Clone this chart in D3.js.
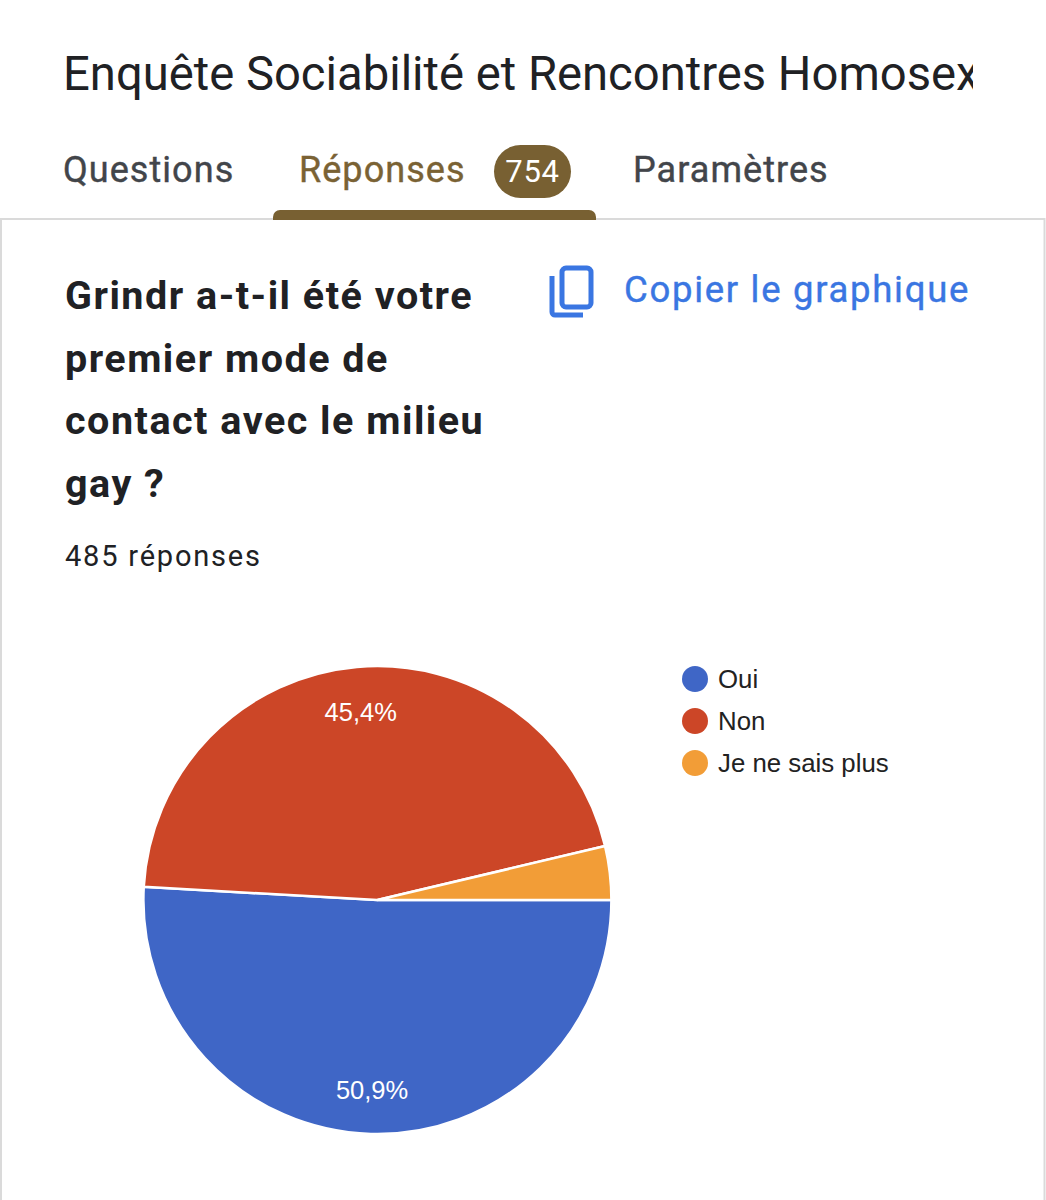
<!DOCTYPE html>
<html>
<head>
<meta charset="utf-8">
<script src="https://cdn.jsdelivr.net/npm/d3@7"></script>
<style>
  html, body { margin: 0; padding: 0; background: #fff; }
  text { font-family: Roboto, sans-serif; }
</style>
</head>
<body>
<svg id="chart"></svg>
<script>
// values
const categories = ["Oui", "Non", "Je ne sais plus"];
const shares = [50.9, 45.4, 3.7];
const shareLabels = ["50,9%", "45,4%", ""];
const colours = ["#3f66c6", "#cc4627", "#f29d37"];
const tabs = ["Questions", "Réponses", "Paramètres"];
const titleLines = ["Grindr a-t-il été votre", "premier mode de", "contact avec le milieu", "gay ?"];

const width = 1046, height = 1200;
const svg = d3.select("#chart").attr("width", width).attr("height", height)
    .style("display", "block");

// clip for the cut off form title
svg.append("clipPath").attr("id", "titleClip")
    .append("rect").attr("x", 0).attr("y", 30).attr("width", 973).attr("height", 90);

svg.append("text")
    .attr("x", 63).attr("y", 90)
    .attr("clip-path", "url(#titleClip)")
    .attr("font-size", 47.2)
    .attr("fill", "#202124")
    .text("Enquête Sociabilité et Rencontres Homosexuelles");

// tabs
const tabX = [63, 299, 633];
svg.selectAll(".tab")
    .data(tabs)
    .join("text")
    .attr("class", "tab")
    .attr("x", (d, i) => tabX[i])
    .attr("y", 182)
    .attr("font-size", 36)
    .attr("font-weight", 400)
    .attr("letter-spacing", 1.05)
    .attr("stroke-width", 0.4)
    .attr("stroke", (d, i) => i === 1 ? "#7a6234" : "#42454a")
    .attr("fill", (d, i) => i === 1 ? "#7a6234" : "#42454a")
    .text(d => d);

svg.append("rect")
    .attr("x", 494).attr("y", 145).attr("width", 77).attr("height", 53).attr("rx", 26.5)
    .attr("fill", "#786032");
svg.append("text")
    .attr("x", 532.5).attr("y", 182)
    .attr("text-anchor", "middle")
    .attr("font-size", 31)
    .attr("letter-spacing", 0.8)
    .attr("fill", "#fff")
    .text("754");

// card border, then the active tab marker over it
svg.append("rect")
    .attr("x", 1).attr("y", 219).attr("width", 1043.5).attr("height", height)
    .attr("fill", "none").attr("stroke", "#dadada").attr("stroke-width", 2);
svg.append("path")
    .attr("d", "M273,220 v-3 a7,7 0 0 1 7,-7 h309 a7,7 0 0 1 7,7 v3 z")
    .attr("fill", "#786032");

// question
svg.selectAll(".question")
    .data(titleLines)
    .join("text")
    .attr("class", "question")
    .attr("x", 65)
    .attr("y", (d, i) => 309 + i * 62.7)
    .attr("font-size", 39.5)
    .attr("font-weight", 700)
    .attr("letter-spacing", 1.5)
    .attr("fill", "#202124")
    .text(d => d);

svg.append("text")
    .attr("x", 65).attr("y", 566)
    .attr("font-size", 29)
    .attr("letter-spacing", 1.8)
    .attr("fill", "#202124")
    .text("485 réponses");

// copy icon and link
const icon = svg.append("g")
    .attr("fill", "none").attr("stroke", "#3a76e2").attr("stroke-width", 5);
icon.append("rect")
    .attr("x", 562).attr("y", 268).attr("width", 29).attr("height", 39).attr("rx", 4);
icon.append("path")
    .attr("d", "M552,276 v36 a3,3 0 0 0 3,3 h28");

svg.append("text")
    .attr("x", 624).attr("y", 302)
    .attr("font-size", 36.5)
    .attr("font-weight", 400)
    .attr("letter-spacing", 1.7)
    .attr("stroke", "#3a76e2")
    .attr("stroke-width", 0.4)
    .attr("fill", "#3a76e2")
    .text("Copier le graphique");

// pie, clockwise from three o'clock
const radius = 234;
const pie = d3.pie().sort(null)
    .startAngle(Math.PI / 2).endAngle(Math.PI * 2.5)(shares);
const arc = d3.arc().innerRadius(0).outerRadius(radius);
const labelArc = d3.arc().innerRadius(radius * 0.81).outerRadius(radius * 0.81);

const pieG = svg.append("g").attr("transform", "translate(377.4,900)");
pieG.selectAll("path")
    .data(pie)
    .join("path")
    .attr("d", arc)
    .attr("fill", (d, i) => colours[i])
    .attr("stroke", "#fff")
    .attr("stroke-width", 2.5);

pieG.selectAll("text")
    .data(pie)
    .join("text")
    .attr("transform", d => `translate(${labelArc.centroid(d)})`)
    .attr("text-anchor", "middle")
    .attr("dy", "0.39em")
    .attr("font-size", 25.5)
    .attr("fill", "#fff")
    .style("font-family", "'Liberation Sans', Arial, sans-serif")
    .text((d, i) => shareLabels[i]);

// legend
const legendY = d3.scalePoint().domain(categories).range([679, 763]);
const legend = svg.selectAll(".legend")
    .data(categories)
    .join("g")
    .attr("class", "legend")
    .attr("transform", d => `translate(695,${legendY(d)})`);
legend.append("circle")
    .attr("r", 13)
    .attr("fill", (d, i) => colours[i]);
legend.append("text")
    .attr("x", 23)
    .attr("dy", "0.36em")
    .attr("font-size", 25.8)
    .attr("fill", "#222")
    .style("font-family", "'Liberation Sans', Arial, sans-serif")
    .text(d => d);
</script>
</body>
</html>
